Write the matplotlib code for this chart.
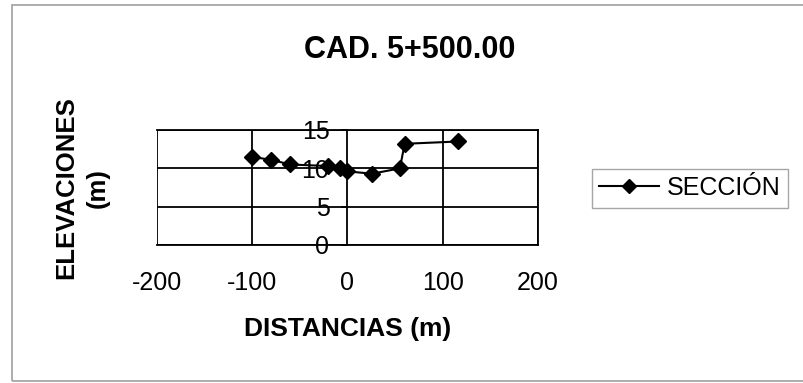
import matplotlib
matplotlib.use("Agg")
import matplotlib.pyplot as plt
from matplotlib.patches import Rectangle
from matplotlib.lines import Line2D

plt.rcParams['font.family'] = ['Liberation Sans', 'DejaVu Sans']

# Cross-section survey points
distancias = [-100, -80, -60, -20, -8, 0, 26, 55, 60, 116]
elevaciones = [11.5, 11.1, 10.5, 10.3, 10.1, 9.6, 9.3, 10.0, 13.2, 13.5]

x_ticks = [-200, -100, 0, 100, 200]
y_ticks = [0, 5, 10, 15]

titulo = "CAD. 5+500.00"
etiqueta_x = "DISTANCIAS (m)"
etiqueta_y = "ELEVACIONES\n(m)"
serie = "SECCIÓN"

fig = plt.figure(figsize=(8.04, 3.83), dpi=100)

# Chart-area frame
fig.add_artist(Rectangle((12 / 804, 1 - 381 / 383), 1.0, (381 - 4.5) / 383,
                         transform=fig.transFigure, fill=False,
                         edgecolor='#a0a0a0', linewidth=1.2))

ax = fig.add_axes([157 / 804, 1 - 245 / 383, (538 - 157) / 804, (245 - 130) / 383])
ax.set_xlim(-200, 200)
ax.set_ylim(0, 15)

# Gridlines
for v in y_ticks:
    ax.axhline(v, color='black', linewidth=1.3, zorder=1)
for v in [-100, 100]:
    ax.axvline(v, color='black', linewidth=1.3, zorder=1)

# Plot-area border, value axis crossing at x = 0
for s in ['top', 'right', 'bottom']:
    ax.spines[s].set_linewidth(1.3)
ax.spines['left'].set_position(('data', 0))
ax.spines['left'].set_linewidth(1.3)
ax.add_patch(Rectangle((0, 0), 1, 1, transform=ax.transAxes, fill=False,
                       edgecolor='black', linewidth=1.3, zorder=1))

ax.set_xticks(x_ticks)
ax.set_yticks(y_ticks)
ax.set_xticklabels([str(v) for v in x_ticks])
ax.set_yticklabels([str(v) for v in y_ticks])
ax.tick_params(axis='x', length=0, pad=19, labelsize=18)
ax.tick_params(axis='y', length=4, width=1.3, pad=9, labelsize=18)

ax.plot(distancias, elevaciones, color='black', linewidth=1.5, marker='D',
        markersize=8.5, markerfacecolor='black', markeredgecolor='black',
        zorder=3, clip_on=False)

fig.text(410 / 804, 1 - 50 / 383, titulo, ha='center', va='center',
         fontsize=22, fontweight='bold')
fig.text(348 / 804, 1 - 329 / 383, etiqueta_x, ha='center', va='center',
         fontsize=19, fontweight='bold')
fig.text(82 / 804, 1 - 188 / 383, etiqueta_y, ha='center', va='center',
         fontsize=18.5, fontweight='bold', rotation=90, linespacing=1.4,
         multialignment='center')

# Legend
handle = Line2D([], [], color='black', linewidth=1.5, marker='D',
                markersize=7, markerfacecolor='black')
leg = fig.legend([handle], [serie], loc='center',
                 bbox_to_anchor=(690 / 804, 1 - 188 / 383),
                 fontsize=18, frameon=True, fancybox=False,
                 edgecolor='#909090', handlelength=2.4, handletextpad=0.3,
                 borderpad=0.3)
leg.get_frame().set_linewidth(1.0)

fig.savefig("out.png", dpi=100)
